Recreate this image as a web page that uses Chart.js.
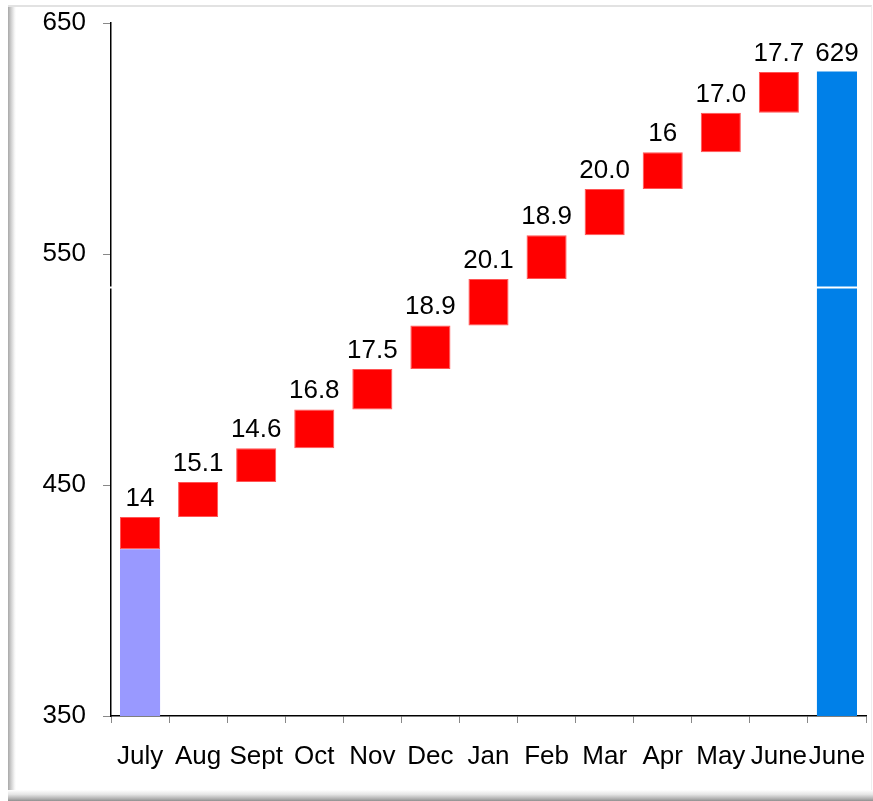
<!DOCTYPE html>
<html>
<head>
<meta charset="utf-8">
<script src="https://cdn.jsdelivr.net/npm/chart.js@4/dist/chart.umd.min.js"></script>
<style>
  html, body { margin: 0; padding: 0; background: #fff; }
  #wrap { position: relative; width: 873px; height: 801px; overflow: hidden; background: #fff; }
  #frame { position: absolute; left: 8px; top: 5px; width: 864px; height: 796px; background: #fff;
           border-top: 2px solid #e2e2e2; border-right: 1px solid #eeeeee; box-sizing: border-box; }
  #lshadow { position: absolute; left: 8px; top: 7px; width: 8px; height: 794px;
             background: linear-gradient(to right, #a8a8a8, #d0d0d0 40%, #f4f4f4 80%, #fff); }
  #bshadow { position: absolute; left: 8px; top: 790px; width: 865px; height: 11px;
             background: linear-gradient(to bottom, #fff, #e6e6e6 40%, #b0b0b0 80%, #909090); }
  canvas { position: absolute; left: 0; top: 0; }
</style>
</head>
<body>
<div id="wrap">
  <div id="frame"></div>
  <div id="lshadow"></div>
  <div id="bshadow"></div>
  <canvas id="c" width="873" height="801"></canvas>
</div>
<script>
const categories = ['July','Aug','Sept','Oct','Nov','Dec','Jan','Feb','Mar','Apr','May','June','June'];
const startValue = 422.2;
const monthlyChanges = [14, 15.1, 14.6, 16.8, 17.5, 18.9, 20.1, 18.9, 20.0, 16, 17.0, 17.7];
const endValue = 629;
const valueLabels = ['14','15.1','14.6','16.8','17.5','18.9','20.1','18.9','20.0','16','17.0','17.7','629'];
const yTicks = [350, 450, 550, 650];
const axisBreakValue = 535.6;

// build floating ranges (waterfall)
const changeRanges = [];
let run = startValue;
monthlyChanges.forEach(v => { changeRanges.push([run, run + v]); run += v; });
changeRanges.push(null);
const baseRanges = categories.map((c, i) => i === 0 ? [350, startValue] : (i === categories.length - 1 ? [350, endValue] : null));
const baseColors = categories.map((c, i) => i === 0 ? '#9999ff' : '#0080e8');

const FONT = "'Liberation Sans', Arial, sans-serif";

const labelPlugin = {
  id: 'labels',
  afterDatasetsDraw(chart) {
    const ctx = chart.ctx;
    const xs = chart.scales.x, ys = chart.scales.y;
    ctx.save();
    const yb = Math.round(ys.getPixelForValue(axisBreakValue)) + 0.5;
    ctx.strokeStyle = '#ffffff';
    ctx.lineWidth = 2;
    ctx.beginPath();
    ctx.moveTo(xs.left - 3, yb); ctx.lineTo(xs.left + 3, yb);
    const last = categories.length - 1;
    const meta = chart.getDatasetMeta(0);
    const el = meta.data[last];
    if (el) {
      ctx.moveTo(el.x - el.width / 2 - 1, yb); ctx.lineTo(el.x + el.width / 2 + 1, yb);
    }
    ctx.stroke();
    ctx.fillStyle = '#000';
    ctx.font = '26px ' + FONT;
    ctx.textAlign = 'center';
    ctx.textBaseline = 'alphabetic';
    categories.forEach((c, i) => {
      const top = i < last ? changeRanges[i][1] : endValue;
      const x = xs.getPixelForValue(i);
      const y = ys.getPixelForValue(top) - 11;
      ctx.fillText(valueLabels[i], x, y);
    });
    ctx.restore();
  }
};

new Chart(document.getElementById('c'), {
  type: 'bar',
  data: {
    labels: categories,
    datasets: [
      { label: 'base', data: baseRanges, backgroundColor: baseColors, borderWidth: 0,
        barPercentage: 0.69, categoryPercentage: 1 },
      { label: 'change', data: changeRanges, backgroundColor: '#ff0000', borderColor: '#ff5555', borderWidth: 1,
        borderSkipped: false, barPercentage: 0.69, categoryPercentage: 1 }
    ]
  },
  options: {
    responsive: false,
    animation: false,
    layout: { padding: { left: 0, right: 7, top: 23, bottom: 0 } },
    plugins: { legend: { display: false }, tooltip: { enabled: false } },
    scales: {
      x: {
        stacked: true,
        offset: true,
        grid: { display: true, drawOnChartArea: false, drawTicks: true, tickLength: 7, color: '#888', offset: true },
        border: { display: true, color: '#000', width: 1.5 },
        ticks: { color: '#000', font: { size: 26, family: FONT }, padding: 18, autoSkip: false, maxRotation: 0 },
        afterFit(s) { s.height = 85; s.paddingLeft = 0; s.paddingRight = 0; }
      },
      y: {
        stacked: false,
        min: 350, max: 650,
        afterBuildTicks(s) { s.ticks = yTicks.map(v => ({ value: v })); },
        grid: { display: true, drawOnChartArea: false, drawTicks: true, tickLength: 8, color: '#888' },
        border: { display: true, color: '#000', width: 1.5 },
        ticks: { color: '#000', font: { size: 26, family: FONT }, padding: 17 },
        afterFit(s) { s.width = 111; s.paddingTop = 0; s.paddingBottom = 0; }
      }
    }
  },
  plugins: [labelPlugin]
});
</script>
</body>
</html>
